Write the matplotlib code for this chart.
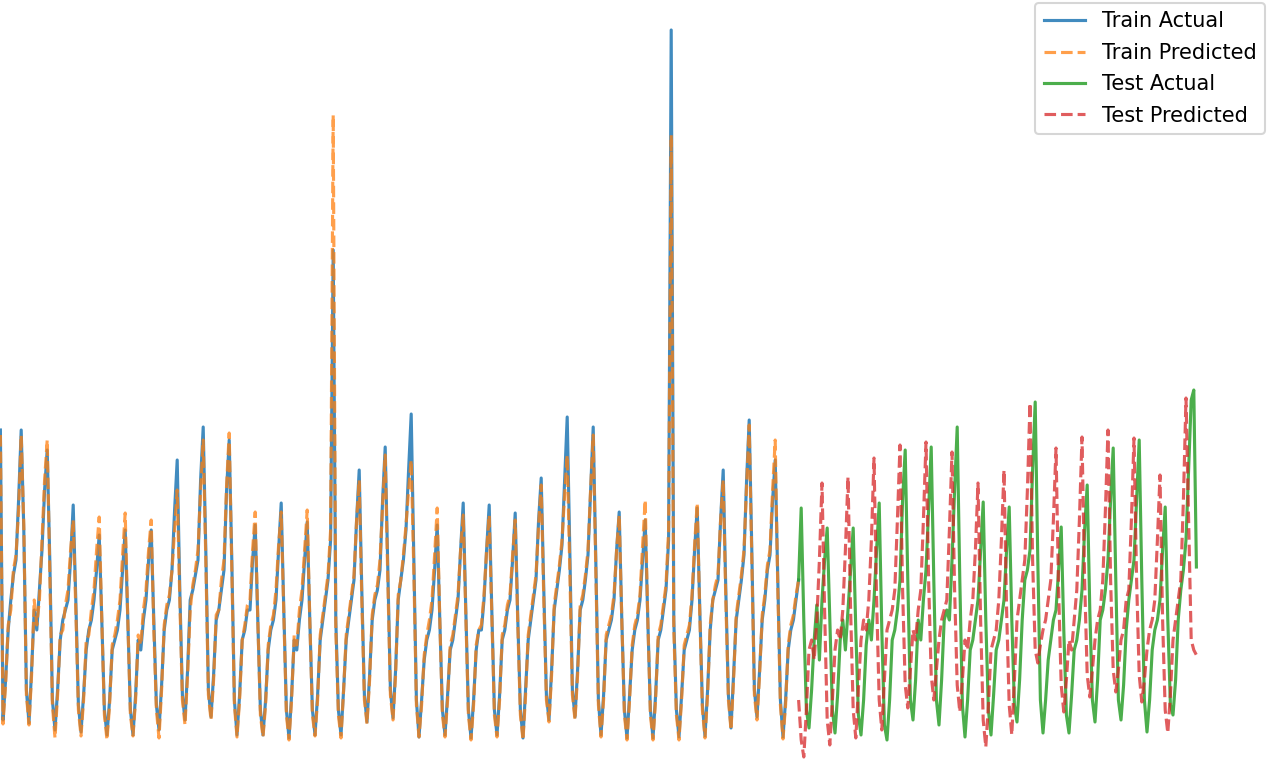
# train / test actual vs predicted
import numpy as np
import matplotlib.pyplot as plt

# train actual, one row per daily cycle (trough ... peak ... falling)
train_actual_start = [34.0]
train_actual_cycles = [
    [5.0, 9, 14, 17, 19.5, 21, 27, 34, 24, 8],
    [4.7, 10, 16, 14, 18, 22, 28, 32, 21, 7],
    [4.0, 8, 13, 15, 16, 17, 21, 26.5, 17, 6.5],
    [3.8, 7.5, 12, 14, 15, 17, 20, 23.5, 15, 6],
    [3.5, 7, 12, 13, 14, 16, 20, 24, 15, 6],
    [3.5, 7.5, 13, 12, 15, 17, 21, 24, 15, 6.5],
    [4.0, 8.5, 14, 16, 17, 20, 26, 31, 18, 7.5],
    [5.0, 10, 17, 18, 19.5, 21, 29, 34.3, 22, 8],
    [5.3, 9.5, 15, 16, 18, 20, 28, 33, 21, 7],
    [3.5, 7.5, 13, 14, 16, 16, 21, 24.5, 15, 6],
    [3.5, 7, 12, 14, 15, 17, 22, 26.7, 16, 6],
    [3.2, 7.5, 13, 12, 15, 17, 21, 24.8, 15, 6],
    [3.5, 7.5, 13, 15, 17, 19, 23, 52, 15, 6],
    [3.5, 8, 13, 15, 17, 19, 25, 30, 18, 7.5],
    [4.8, 9.5, 15, 17, 18, 20, 27, 32.3, 20, 8],
    [5.2, 10, 17, 19, 21, 24, 30, 35.6, 21, 7],
    [3.3, 7, 11, 13, 14, 16, 20, 24.5, 15, 6],
    [3.5, 7.5, 12, 13, 15, 17, 22, 26.7, 16, 6],
    [3.2, 7, 12, 14, 14, 17, 22, 26.5, 16, 6],
    [3.5, 7.5, 13, 14, 16, 17, 21, 25.7, 15, 6],
    [3.2, 8, 13, 15, 17, 19, 25, 29.2, 18, 7.5],
    [5.0, 10, 16, 18, 20, 22.5, 29, 35.3, 22, 8],
    [5.3, 10, 16, 17, 19, 21.5, 28, 34.3, 21, 7],
    [3.5, 7.5, 13, 14, 15, 17, 22, 25.8, 15, 6],
    [3.2, 7.5, 12, 14, 15, 17, 21, 25, 15, 6],
    [3.2, 7.5, 13, 14, 16, 18, 23, 74, 15, 6],
    [3.3, 7.5, 12, 13, 14, 17, 22, 26.2, 16, 6.5],
    [3.4, 8, 14, 17, 18, 19, 25, 30, 18, 7.5],
    [4.2, 9.5, 15, 17, 19, 21.5, 29, 35, 22, 8],
    [5.3, 10, 15, 17, 20, 21.5, 27, 31, 19, 7],
]
train_actual_end = [3.3, 7, 12, 14, 15, 17, 19]

# train predicted
train_pred_start = [33.5]
train_pred_cycles = [
    [4.6, 8.5, 14.5, 16, 20, 21.5, 26, 33.5, 24.5, 7.5],
    [4.5, 9.5, 17, 14.5, 17, 23, 29, 33, 20, 6.5],
    [3.2, 7.5, 13.5, 14, 16.5, 18, 22, 25, 16, 6],
    [3.4, 7, 13, 13.5, 16, 18, 22, 25.3, 15, 5.5],
    [3.0, 6.5, 12.5, 13.5, 15, 17, 21.5, 25.7, 15, 5.5],
    [3.4, 7, 13.5, 12.5, 16, 18, 22, 25, 14, 6],
    [3.2, 8, 14.5, 16.5, 17.5, 20, 24, 28, 17, 7],
    [4.5, 9.5, 16, 18.5, 20, 22, 28, 33, 21, 7.5],
    [5.0, 9, 15.5, 16, 19, 21, 28.5, 33.7, 20, 6.5],
    [3.3, 7, 13, 14.5, 16.5, 17, 22, 25.8, 15, 5.5],
    [3.3, 6.5, 12.5, 14.5, 15.5, 18, 22.5, 25.8, 15.5, 5.5],
    [3.0, 7, 13.5, 12.5, 16, 18, 22, 26, 15, 5.5],
    [3.4, 7, 13.5, 15.5, 17.5, 19.5, 24, 65.5, 14, 5.5],
    [3.2, 8, 13.5, 15.5, 17.5, 19.5, 25, 29, 17, 7],
    [4.6, 9, 15.5, 17.5, 18.5, 21, 26.5, 31.5, 19, 7.5],
    [5.0, 9.5, 17.5, 19, 21.5, 24.5, 28, 31, 20, 6.5],
    [3.3, 6.5, 11.5, 13.5, 15, 17, 21.5, 26.2, 15, 5.5],
    [3.3, 7, 12.5, 13.5, 15.5, 17.5, 22, 25.5, 15.5, 5.5],
    [3.0, 6.5, 12.5, 14, 14.5, 17.5, 22, 25.5, 15.5, 5.5],
    [3.3, 7, 13.5, 14.5, 16.5, 17.5, 21.5, 25, 14.5, 5.5],
    [3.0, 7.5, 13.5, 15.5, 17.5, 19.5, 24.5, 28.5, 17, 7],
    [4.8, 9.5, 16.5, 18.5, 20.5, 23, 27.5, 31.5, 20, 7.5],
    [5.0, 9.5, 16.5, 17.5, 19.5, 22, 28, 33.5, 20, 6.5],
    [3.3, 7, 13.5, 14.5, 15.5, 17.5, 22, 25.5, 15, 5.5],
    [3.0, 7, 12.5, 14.5, 15.5, 17.5, 22.5, 27, 15, 5.5],
    [3.0, 7, 13.5, 14.5, 16.5, 18.5, 24, 63.5, 14, 5.5],
    [3.0, 7, 12.5, 13.5, 14.5, 17.5, 22.5, 26.7, 15.5, 6],
    [3.2, 7.5, 14.5, 17, 18.5, 19.5, 25, 29, 17, 7],
    [4.0, 9, 15.5, 17.5, 19.5, 22, 28.5, 34.5, 21, 7.5],
    [5.0, 9.5, 15.5, 17.5, 20.5, 22, 28, 33, 18, 6.5],
]
train_pred_end = [3.1, 6.5, 12.5, 14.5, 15.5, 17.5, 19]

# test actual
test_actual_start = [19, 26.2, 15, 6]
test_actual_cycles = [
    [4.2, 8, 13, 16.5, 11, 17, 21, 24.2, 15, 6],
    [3.7, 7.5, 13, 15, 12, 16, 20, 24.2, 14, 5.5],
    [3.5, 7, 12.5, 15, 13, 17, 22, 26.7, 14, 4.5],
    [3.0, 7, 13, 14, 16, 19, 27, 32, 19, 7],
    [5.0, 9, 15, 13, 17, 20, 26, 32.3, 19, 7],
    [4.5, 9, 15, 16, 15, 21, 28, 34.3, 19, 6.5],
    [3.3, 7, 12, 13, 15, 17, 22, 26.8, 15, 6],
    [3.5, 7.5, 12, 13, 15, 17, 22, 26.3, 15, 6.5],
    [4.8, 9, 15, 19, 20, 22, 30, 36.8, 21, 7],
    [3.7, 7, 11, 13, 15, 16, 20, 24.3, 14, 5.5],
    [3.7, 7.5, 12, 13, 15, 18, 24, 28.5, 16, 7],
    [4.8, 9, 15, 16, 18, 21, 27, 32.2, 19, 7],
    [5.0, 8.5, 14, 17, 19, 21, 27, 33, 19, 7],
    [3.8, 7, 12, 14, 15, 17, 22, 26.3, 15, 6.5],
    [5.5, 9, 15, 18, 20, 23, 30, 37, 38, 20.3],
]

# test predicted
test_pred_start = [7, 3]
test_pred_cycles = [
    [1.3, 6, 12, 13, 11, 15, 21, 28.7, 16, 5],
    [2.5, 7, 12, 14, 13, 16, 22, 29.3, 16, 6],
    [3.2, 8, 13, 15, 14, 17, 23, 31.2, 17, 7],
    [4.0, 9, 14, 15, 16, 18, 25, 32.5, 18, 8.5],
    [6.2, 10, 14, 13, 16, 18, 25, 32.8, 19, 9.5],
    [7.0, 10, 13, 15, 16, 17, 24, 31.8, 18, 8.5],
    [5.8, 9, 13, 12, 15, 17, 22, 28.7, 15, 5],
    [2.3, 6.5, 12, 13, 14, 17, 23, 30, 16, 6.5],
    [3.5, 9, 15, 17, 19, 21, 28, 36.7, 21, 12],
    [10.7, 12.5, 14, 15, 17, 19, 25, 32.2, 18, 8.5],
    [5.8, 9, 13, 12, 15, 18, 25, 33.3, 19, 9.5],
    [7.3, 10, 13, 15, 16, 19, 26, 34, 19, 10],
    [7.8, 10, 13, 14, 17, 18, 25, 33.2, 19, 9.5],
    [6.8, 9, 12, 14, 15, 17, 23, 29.5, 15, 6],
]
test_pred_end = [3.7, 7.5, 13, 15, 17, 19, 27, 37.2, 25, 13, 12, 11.5]


def flatten(start, cycles, end=()):
    return np.array(list(start) + [v for c in cycles for v in c] + list(end))


train_actual = flatten(train_actual_start, train_actual_cycles, train_actual_end)
train_pred = flatten(train_pred_start, train_pred_cycles, train_pred_end)
test_actual = flatten(test_actual_start, test_actual_cycles)
test_pred = flatten(test_pred_start, test_pred_cycles, test_pred_end)

x_train = np.arange(len(train_actual))
x_test = np.arange(len(train_actual) - 1, len(train_actual) - 1 + len(test_actual))

fig = plt.figure(figsize=(1273 / 150, 769 / 150), dpi=150)
ax = fig.add_axes([0, 0, 1, 1])
ax.plot(x_train, train_actual, color='tab:blue', alpha=0.85, label='Train Actual')
ax.plot(x_train, train_pred, color='tab:orange', ls='--', alpha=0.75, label='Train Predicted')
ax.plot(x_test, test_actual, color='tab:green', alpha=0.85, label='Test Actual')
ax.plot(x_test, test_pred, color='tab:red', ls='--', alpha=0.75, label='Test Predicted')

ax.set_xlim(-0.4 / 2.6, (1273 - 0.4) / 2.6)
ax.set_ylim(0.1, 77)
ax.axis('off')
fig.legend(loc='upper right', bbox_to_anchor=(1265 / 1273, 1 - 3 / 769),
           borderaxespad=0, labelspacing=0.55)

plt.savefig('out.png', dpi=150)
